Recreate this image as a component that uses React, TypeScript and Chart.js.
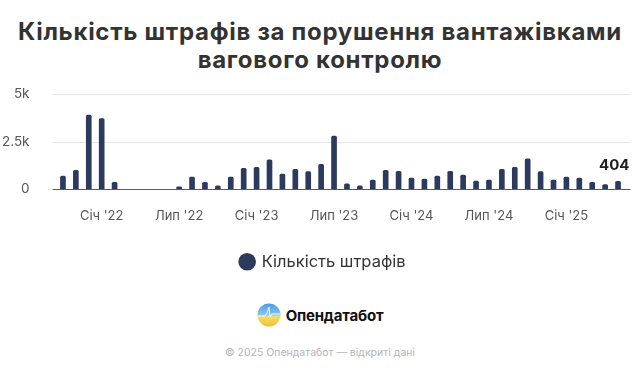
import React, { useEffect, useRef } from "react";
import { Chart, registerables } from "chart.js";

Chart.register(...registerables);

const categories = [
  "Жов '21", "Лис '21", "Гру '21",
  "Січ '22", "Лют '22", "Бер '22", "Кві '22", "Тра '22", "Чер '22", "Лип '22", "Сер '22", "Вер '22", "Жов '22", "Лис '22", "Гру '22",
  "Січ '23", "Лют '23", "Бер '23", "Кві '23", "Тра '23", "Чер '23", "Лип '23", "Сер '23", "Вер '23", "Жов '23", "Лис '23", "Гру '23",
  "Січ '24", "Лют '24", "Бер '24", "Кві '24", "Тра '24", "Чер '24", "Лип '24", "Сер '24", "Вер '24", "Жов '24", "Лис '24", "Гру '24",
  "Січ '25", "Лют '25", "Бер '25", "Кві '25", "Тра '25",
];

const fines: (number | null)[] = [
  680, 980, 3890,
  3715, 340, null, null, null, null, 110, 625, 340, 160, 625, 1090,
  1140, 1535, 785, 1035, 910, 1300, 2785, 270, 160, 465, 980, 930,
  570, 520, 680, 930, 730, 410, 465, 1035, 1140, 1590, 910, 465,
  625, 570, 340, 230, 404,
];

const yTicks = [0, 2500, 5000];
const yTickLabels = ["0", "2.5k", "5k"];

const seriesName = "Кількість штрафів";
const titleText = "Кількість штрафів за порушення вантажівками вагового контролю";
const brandName = "Опендатабот";
const footerText = "© 2025 Опендатабот — відкриті дані";

const BAR_COLOR = "#2c3a5e";
const FONT = "Inter, 'Noto Sans', sans-serif";

export default function App() {
  const canvasRef = useRef<HTMLCanvasElement | null>(null);

  useEffect(() => {
    document.body.style.margin = "0";
    const canvas = canvasRef.current;
    if (!canvas) return;

    const gridPlugin = {
      id: "extGrid",
      afterLayout(chart: any) {
        const lg = chart.legend;
        if (lg) {
          lg.left += 11;
          lg.right += 11;
        }
      },
      beforeDatasetsDraw(chart: any) {
        const { ctx, chartArea, scales } = chart;
        const y = scales.y;
        ctx.save();
        ctx.strokeStyle = "#e6e6e6";
        ctx.lineWidth = 1;
        yTicks.forEach((v) => {
          if (v === 0) return;
          const py = Math.round(y.getPixelForValue(v)) + 0.5;
          ctx.beginPath();
          ctx.moveTo(chartArea.left - 4, py);
          ctx.lineTo(chartArea.right + 6, py);
          ctx.stroke();
        });
        const p0 = Math.round(y.getPixelForValue(0)) + 0.5;
        ctx.strokeStyle = "#555a66";
        ctx.lineWidth = 1.2;
        ctx.beginPath();
        ctx.moveTo(chartArea.left - 4, p0);
        ctx.lineTo(chartArea.right + 6, p0);
        ctx.stroke();
        ctx.restore();
      },
      afterDatasetsDraw(chart: any) {
        const { ctx, chartArea } = chart;
        const meta = chart.getDatasetMeta(0);
        const last = fines.length - 1;
        const el = meta.data[last];
        const v = fines[last];
        if (!el || v == null) return;
        ctx.save();
        ctx.font = `bold 15px ${FONT}`;
        ctx.fillStyle = "#1f1f1f";
        ctx.textAlign = "center";
        ctx.textBaseline = "bottom";
        const label = String(v);
        const w = ctx.measureText(label).width;
        let cx = el.x;
        if (cx + w / 2 > chartArea.right + 5) cx = chartArea.right + 5 - w / 2;
        ctx.fillText(label, cx, el.y - 8);
        ctx.restore();
      },
    };

    const chart = new Chart(canvas, {
      type: "bar",
      data: {
        labels: categories,
        datasets: [
          {
            label: seriesName,
            data: fines,
            backgroundColor: BAR_COLOR,
            borderColor: BAR_COLOR,
            barThickness: 5,
            borderRadius: { topLeft: 1.5, topRight: 1.5 },
            borderSkipped: "bottom",
          },
        ],
      },
      options: {
        animation: false,
        responsive: true,
        maintainAspectRatio: false,
        layout: { padding: { top: 4, right: 15.5, left: 0, bottom: 0 } },
        plugins: {
          tooltip: { enabled: false },
          legend: {
            position: "bottom",
            labels: {
              usePointStyle: true,
              pointStyle: "circle",
              boxHeight: 12.5,
              boxWidth: 12.5,
              color: "#333",
              font: { family: FONT, size: 16.5 },
              padding: 19,
            },
          },
        },
        scales: {
          x: {
            grid: { display: false },
            border: { display: false },
            ticks: {
              autoSkip: false,
              maxRotation: 0,
              color: "#555",
              padding: 11,
              font: { family: FONT, size: 13 },
              callback: (_v: any, i: number) => {
                const l = categories[i];
                return l.startsWith("Січ") || l.startsWith("Лип") ? l : "";
              },
            },
          },
          y: {
            min: 0,
            max: 5000,
            afterFit: (s: any) => {
              s.width = 56.5;
            },
            afterBuildTicks: (s: any) => {
              s.ticks = yTicks.map((v) => ({ value: v }));
            },
            grid: { display: false },
            border: { display: false },
            ticks: {
              color: "#555",
              padding: 19,
              font: { family: FONT, size: 13.5 },
              callback: (v: any) => {
                const idx = yTicks.indexOf(Number(v));
                return idx >= 0 ? yTickLabels[idx] : "";
              },
            },
          },
        },
      },
      plugins: [gridPlugin],
    });

    return () => chart.destroy();
  }, []);

  return (
    <div style={{ position: "relative", width: 640, height: 373, background: "#fff", overflow: "hidden", fontFamily: FONT }}>
      <div
        style={{
          position: "absolute",
          top: 18,
          left: 0,
          width: 640,
          textAlign: "center",
          fontSize: 24,
          lineHeight: "28px",
          letterSpacing: "0.7px",
          fontWeight: 700,
          color: "#333",
          padding: "0 6px",
          boxSizing: "border-box",
        }}
      >
        {titleText}
      </div>
      <div style={{ position: "absolute", top: 67, left: 0, width: 640, height: 213 }}>
        <canvas ref={canvasRef} />
      </div>
      <div
        style={{
          position: "absolute",
          top: 303,
          left: 0,
          width: 640,
          display: "flex",
          justifyContent: "center",
          alignItems: "center",
          gap: 5,
        }}
      >
        <svg width="24" height="24" viewBox="0 0 24 24">
          <defs>
            <linearGradient id="lg" x1="0" y1="0" x2="0" y2="1">
              <stop offset="0" stopColor="#4a9be8" />
              <stop offset="0.5" stopColor="#8cc6ee" />
              <stop offset="0.55" stopColor="#f3dc6a" />
              <stop offset="1" stopColor="#f2c230" />
            </linearGradient>
          </defs>
          <circle cx="12" cy="12" r="11.5" fill="url(#lg)" />
          <polyline
            points="1,13 8,13 10,10 12,4 13,14 15,11 23,11"
            fill="none"
            stroke="#ffffff"
            strokeWidth="1"
            opacity="0.9"
          />
        </svg>
        <span style={{ fontSize: 15, fontWeight: 700, color: "#111", letterSpacing: "-0.2px" }}>{brandName}</span>
      </div>
      <div
        style={{
          position: "absolute",
          top: 346,
          left: 0,
          width: 640,
          textAlign: "center",
          fontSize: 10.5,
          color: "#b5b5b5",
        }}
      >
        {footerText}
      </div>
    </div>
  );
}
